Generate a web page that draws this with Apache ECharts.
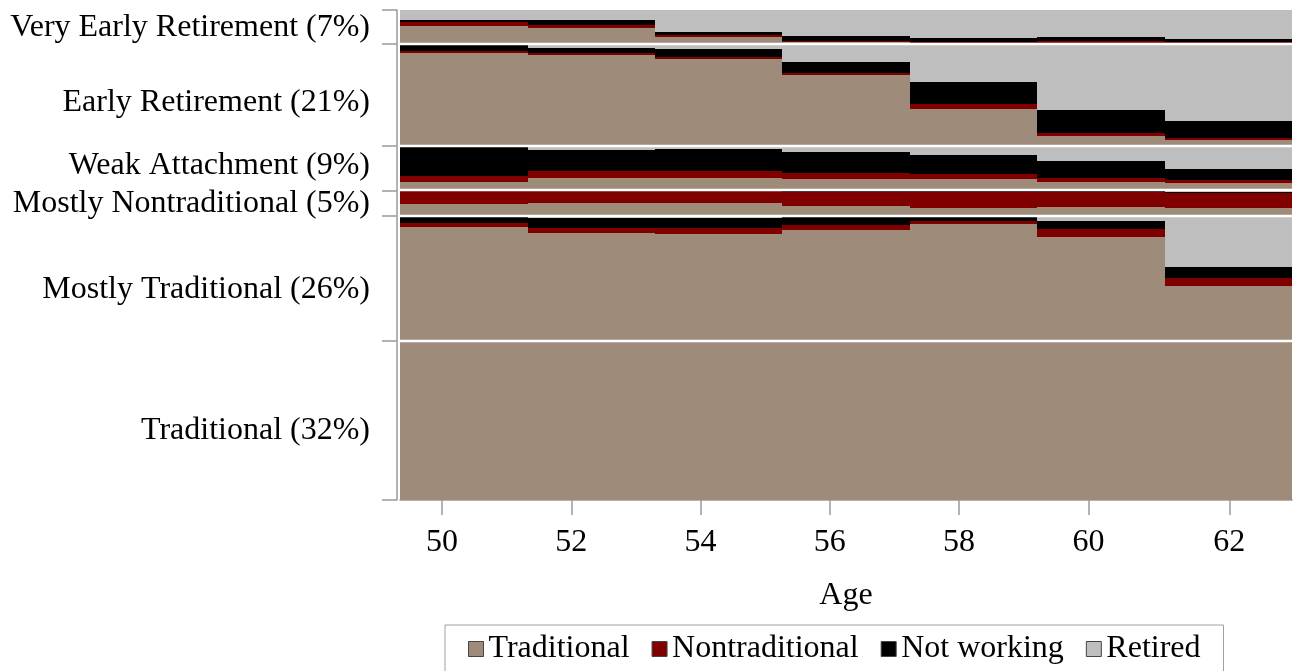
<!DOCTYPE html>
<html>
<head>
<meta charset="utf-8">
<title>Work state by age and cluster</title>
<script src="https://cdn.jsdelivr.net/npm/echarts@6/dist/echarts.min.js"></script>
<style>
  html, body { margin: 0; padding: 0; background: #fff; }
  #chart { width: 1297px; height: 671px; }
</style>
</head>
<body>
<div id="chart"></div>
<script>
// cluster bands, bottom to top
const clusterNames = ['Traditional (32%)', 'Mostly Traditional (26%)', 'Mostly Nontraditional (5%)',
  'Weak Attachment (9%)', 'Early Retirement (21%)', 'Very Early Retirement (7%)']
const clusterShares = [32.4, 25.6, 5.2, 9.0, 20.9, 6.9]
const clusterLabelAt = [14.2, 42.9, 60.4, 68.2, 81.1, 96.4]

// survey waves (column edges in years of age)
const ageEdges = [49.35, 51.33, 53.3, 55.26, 57.24, 59.21, 61.18, 63.15]
const ageTicks = [50, 52, 54, 56, 58, 60, 62.18]
const ageTickLabels = ['50', '52', '54', '56', '58', '60', '62']

const stateNames = ['Traditional', 'Nontraditional', 'Not working', 'Retired']
const stateColors = ['#9e8b7a', '#800000', '#000000', '#bebebe']

// share of each state, [cluster][wave]
const traditional = [
  [1, 1, 1, 1, 1, 1, 1],
  [0.911, 0.86, 0.855, 0.89, 0.933, 0.83, 0.438],
  [0.46, 0.49, 0.49, 0.385, 0.29, 0.33, 0.30],
  [0.198, 0.274, 0.274, 0.258, 0.252, 0.19, 0.169],
  [0.909, 0.892, 0.853, 0.693, 0.363, 0.10, 0.059],
  [0.538, 0.48, 0.197, 0.05, 0.038, 0.038, 0.03]
]
const nontraditional = [
  [0, 0, 0, 0, 0, 0, 0],
  [0.035, 0.04, 0.045, 0.035, 0.027, 0.062, 0.064],
  [0.54, 0.51, 0.51, 0.545, 0.63, 0.60, 0.60],
  [0.135, 0.165, 0.165, 0.128, 0.112, 0.083, 0.067],
  [0.016, 0.017, 0.023, 0.026, 0.049, 0.033, 0.026],
  [0.10, 0.079, 0.068, 0.038, 0.03, 0.041, 0.038]
]
const notWorking = [
  [0, 0, 0, 0, 0, 0, 0],
  [0.054, 0.08, 0.08, 0.064, 0.035, 0.066, 0.088],
  [0, 0, 0, 0.05, 0.06, 0.05, 0.04],
  [0.667, 0.47, 0.494, 0.485, 0.434, 0.395, 0.24],
  [0.065, 0.05, 0.075, 0.108, 0.213, 0.219, 0.16],
  [0.068, 0.147, 0.097, 0.147, 0.118, 0.135, 0.079]
]
const retired = [
  [0, 0, 0, 0, 0, 0, 0],
  [0, 0.02, 0.02, 0.011, 0.005, 0.042, 0.41],
  [0, 0, 0, 0.02, 0.02, 0.02, 0.06],
  [0, 0.091, 0.067, 0.129, 0.202, 0.335, 0.524],
  [0.01, 0.041, 0.049, 0.173, 0.375, 0.648, 0.755],
  [0.294, 0.294, 0.638, 0.765, 0.814, 0.786, 0.853]
]

const stateValues = [traditional, nontraditional, notWorking, retired]
const font = 'Liberation Serif, Times New Roman, serif'
const axisGray = '#9a9a9a'

// cumulative band edges (in % of sample)
const bandEdges = [0]
clusterShares.forEach((s, i) => bandEdges.push(+(bandEdges[i] + s).toFixed(2)))

// rect rows [x0, x1, y0, y1] for one state
function buildRects(si) {
  const rows = []
  clusterNames.forEach((name, c) => {
    for (let t = 0; t < ageEdges.length - 1; t++) {
      let total = 0, below = 0
      stateValues.forEach((arr, k) => {
        total += arr[c][t]
        if (k < si) below += arr[c][t]
      })
      const v = stateValues[si][c][t]
      if (v <= 0) continue
      const y0 = bandEdges[c] + clusterShares[c] * below / total
      const y1 = y0 + clusterShares[c] * v / total
      rows.push([ageEdges[t], ageEdges[t + 1], y0, y1])
    }
  })
  return rows
}

const chart = echarts.init(document.getElementById('chart'))

const series = stateNames.map((name, si) => ({
  name: name,
  type: 'custom',
  itemStyle: { color: stateColors[si] },
  encode: { x: [0, 1], y: [2, 3] },
  data: buildRects(si),
  renderItem: function (params, api) {
    // snap to whole pixels so neighbouring cells leave no seams
    const a = api.coord([api.value(0), api.value(3)]).map(Math.round)
    const b = api.coord([api.value(1), api.value(2)]).map(Math.round)
    return {
      type: 'rect',
      shape: { x: a[0], y: a[1], width: b[0] - a[0], height: b[1] - a[1] },
      style: { fill: stateColors[si] }
    }
  }
}))

// white separators between cluster bands
series.push({
  name: 'sep',
  type: 'custom',
  silent: true,
  z: 5,
  encode: { y: 0 },
  data: bandEdges.slice(1, -1).map(v => [v]),
  renderItem: function (params, api) {
    const p0 = api.coord([ageEdges[0], api.value(0)])
    const p1 = api.coord([ageEdges[ageEdges.length - 1], api.value(0)])
    const y = Math.round(p0[1])
    return {
      type: 'line',
      shape: { x1: p0[0], y1: y, x2: p1[0], y2: y },
      style: { stroke: '#ffffff', lineWidth: 2.5 }
    }
  }
})

chart.setOption({
  animation: false,
  backgroundColor: '#fff',
  grid: {
    left: 400,
    right: 5,
    top: 10,
    bottom: 171,
    containLabel: false,
    outerBoundsMode: 'none'
  },
  xAxis: {
    type: 'value',
    min: ageEdges[0],
    max: ageEdges[ageEdges.length - 1],
    offset: 2,
    name: 'Age',
    nameLocation: 'middle',
    nameGap: 78,
    nameTextStyle: { fontFamily: font, fontSize: 32, color: '#000' },
    axisLine: { show: true, lineStyle: { color: axisGray, width: 1.5 } },
    axisTick: {
      show: true, length: 15, customValues: ageTicks,
      lineStyle: { color: axisGray, width: 1.5 }
    },
    axisLabel: {
      customValues: ageTicks,
      margin: 25,
      fontFamily: font, fontSize: 32, color: '#000',
      formatter: v => ageTickLabels[ageTicks.indexOf(v)]
    },
    splitLine: { show: false }
  },
  yAxis: {
    type: 'value',
    min: 0,
    max: 100,
    offset: 3,
    axisLine: { show: true, lineStyle: { color: axisGray, width: 1.5 } },
    axisTick: {
      show: true, length: 15, customValues: bandEdges,
      lineStyle: { color: axisGray, width: 1.5 }
    },
    axisLabel: {
      customValues: clusterLabelAt,
      margin: 27,
      fontFamily: font, fontSize: 32, color: '#000',
      formatter: v => clusterNames[clusterLabelAt.indexOf(v)]
    },
    splitLine: { show: false }
  },
  legend: {
    data: stateNames,
    left: 445,
    top: 625,
    padding: [8, 23, 10, 23],
    borderColor: '#a0a0a0',
    borderWidth: 1,
    itemGap: 22,
    itemWidth: 15,
    itemHeight: 15,
    icon: 'rect',
    itemStyle: { borderColor: '#444', borderWidth: 1 },
    textStyle: { fontFamily: font, fontSize: 32, color: '#000' }
  },
  series: series
})
</script>
</body>
</html>
